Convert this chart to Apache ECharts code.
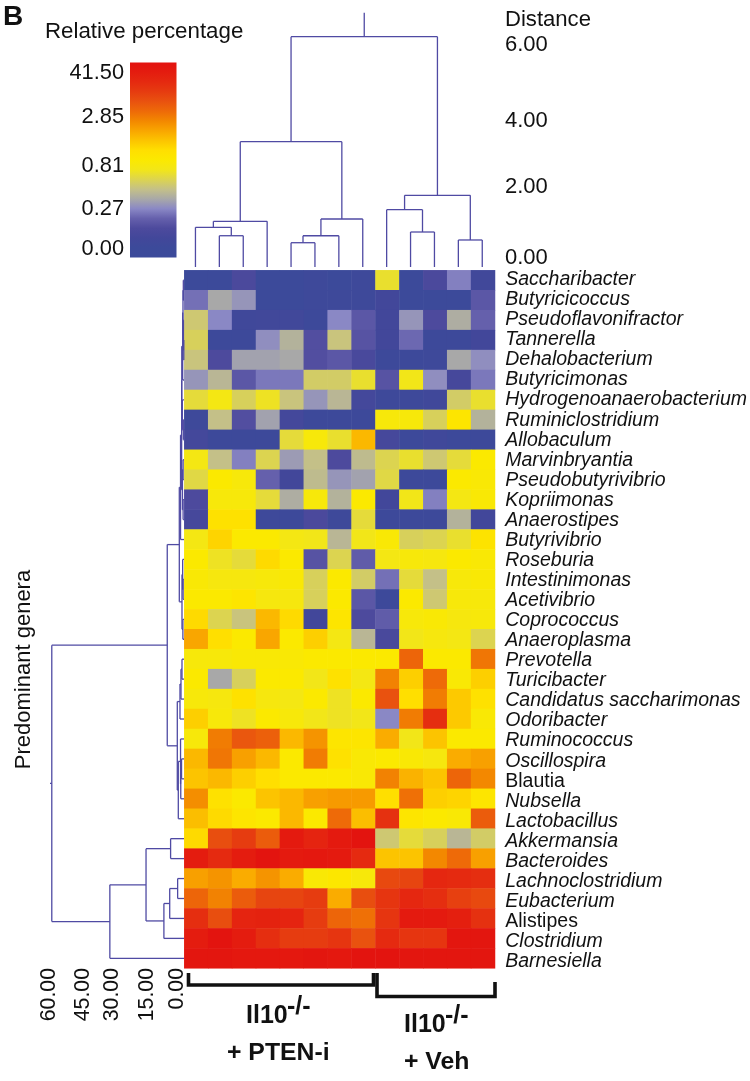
<!DOCTYPE html>
<html><head><meta charset="utf-8">
<style>html,body{margin:0;padding:0;background:#fff}#c{width:750px;height:1081px}</style>
<script src="https://cdn.jsdelivr.net/npm/echarts@6/dist/echarts.min.js"></script>
</head><body><div id="c"></div>
<script>
const samples = ['S1','S2','S3','S4','S5','S6','S7','S8','S9','S10','S11','S12','S13'];
const genera = ['Saccharibacter','Butyricicoccus','Pseudoflavonifractor','Tannerella','Dehalobacterium','Butyricimonas','Hydrogenoanaerobacterium','Ruminiclostridium','Allobaculum','Marvinbryantia','Pseudobutyrivibrio','Kopriimonas','Anaerostipes','Butyrivibrio','Roseburia','Intestinimonas','Acetivibrio','Coprococcus','Anaeroplasma','Prevotella','Turicibacter','Candidatus saccharimonas','Odoribacter','Ruminococcus','Oscillospira','Blautia','Nubsella','Lactobacillus','Akkermansia','Bacteroides','Lachnoclostridium','Eubacterium','Alistipes','Clostridium','Barnesiella'];
const uprightGenera = ['Blautia','Alistipes'];
// Each value is the position of the cell's colour on the colour bar (0 = bottom, 100 = top).
const cellLevels = [
[5,5,14,5,5,7,5,7,43,5,14,24,9],
[22,30,27,5,5,7,7,7,10,5,5,5,18],
[37,25,8,9,9,6,25,18,10,27,15,31,20],
[39,6,6,26,32,16,36,17,10,21,6,6,10],
[36,15,29,29,30,16,18,13,6,6,7,30,26],
[27,33,18,23,23,38,38,43,17,45,26,12,23],
[42,46,39,44,36,27,33,11,7,7,8,38,43],
[7,35,16,29,11,6,6,6,48,48,39,52,32],
[11,6,6,6,42,48,43,62,12,6,8,6,6],
[46,35,24,40,28,35,15,34,40,43,37,42,50],
[41,50,48,20,10,34,27,29,41,6,6,50,49],
[15,48,48,42,31,48,32,50,10,45,24,46,49],
[12,54,54,7,6,14,7,42,6,6,6,32,10],
[46,57,50,50,46,45,33,45,49,39,40,43,53],
[50,44,42,56,50,17,40,19,46,48,47,50,49],
[49,47,47,48,49,39,50,38,22,42,35,48,49],
[50,50,52,47,47,39,50,18,6,50,37,48,48],
[56,40,36,62,56,10,52,15,19,48,49,47,48],
[65,55,50,65,50,58,46,33,13,45,47,46,40],
[48,48,49,49,49,50,50,50,50,76,50,50,73],
[50,30,39,50,50,45,54,46,71,58,75,49,58],
[48,47,54,47,46,50,44,50,80,55,72,59,54],
[58,48,44,50,48,45,44,45,25,72,89,59,49],
[48,72,79,77,62,68,52,52,64,45,60,50,50],
[62,73,66,62,50,72,54,49,50,49,47,64,66],
[60,62,58,55,50,50,50,49,71,63,60,76,70],
[69,54,50,60,62,66,67,67,55,74,58,57,52],
[61,56,52,50,62,50,75,61,88,52,50,49,78],
[56,81,85,78,96,92,96,99,37,42,39,33,38],
[95,90,95,99,96,97,96,90,60,60,70,75,66],
[66,68,64,68,64,49,51,48,82,83,91,90,89],
[76,71,78,83,83,85,64,81,87,91,89,84,82],
[89,81,92,93,92,85,76,74,87,96,96,94,88],
[95,99,95,89,85,85,87,80,90,87,87,98,98],
[98,98,97,97,97,98,97,99,99,98,98,98,98]
];
const scaleColors = ['#3b4a9a','#3c4a9a','#42479a','#4d4a9d','#6560ac','#8a88c5','#a8a8a8','#c4c088','#dcd450','#f2e618','#fbe900','#ffdf00','#fcc400','#f9a600','#f38800','#ee6a08','#e9520f','#e63c10','#e52a10','#e41c0f','#e3120f'];
const scaleTickLabels = ['0.00','0.27','0.81','2.85','41.50'];
const scaleTickPlaces = [4.2,24.8,47.1,72.2,94.8];
const distanceTickLabels = ['0.00','2.00','4.00','6.00'];
const distanceTickPlaces = [0,2,3.87,6];
const rowDistanceTickLabels = ['0.00','15.00','30.00','45.00','60.00'];
const rowDistanceTickPlaces = [0,14.1,30.4,44.3,60];

// Dendrograms: [child, child, merge distance]; a number child is a column/row index.
const columnTree = [
  [[[0,[1,2,0.62],0.858],3,1.027],[[[4,5,0.423],6,0.62],7,1.092],3.272],
  [[8,[9,10,0.725],1.354],[11,12,0.5],1.76],
  6.234];
const rowClusterA = [
  [
    [
      [[[[0,1,0.3],[2,[3,4,0.1],0.25],0.45],5,0.6],[6,[7,8,0.3],0.75],1.0],
      [[9,10,0.4],[11,12,0.4],0.7],
      1.05],
    13,1.55],
  [[14,[15,16,0.4],0.6],[17,18,0.5],0.9],
  2.1];
const rowClusterB = [[[[19,20,0.9],21,1.35],22,1.8],[[23,[[24,25,1.1],26,1.45],1.55],27,2.55],3.0];
const rowClusterC = [[[[30,31,2.85],32,6.4],33,9],[28,29,6.0],17];
const rowTree = [[rowClusterA,rowClusterB,7.5],[rowClusterC,34,33.2],59.2];

function layoutTree(node, leafDistance, segments, vertical){
  if (typeof node === 'number') return {pos:node, dist:leafDistance};
  const a = layoutTree(node[0], leafDistance, segments, vertical);
  const b = layoutTree(node[1], leafDistance, segments, vertical);
  const d = node[2];
  const push = (p1,d1,p2,d2) => segments.push(vertical ? [p1,d1,p2,d2] : [d1,p1,d2,p2]);
  push(a.pos,a.dist,a.pos,d);
  push(b.pos,b.dist,b.pos,d);
  push(a.pos,d,b.pos,d);
  return {pos:(a.pos+b.pos)/2, dist:d};
}
const columnAxisMin = -0.262, columnAxisMax = 6.91;
const columnSegments = [];
const colTop = layoutTree(columnTree, columnAxisMin, columnSegments, true);
columnSegments.push([colTop.pos,colTop.dist,colTop.pos,columnAxisMax]);
const rowSegments = [];
const rowTop = layoutTree(rowTree, 0, rowSegments, false);
rowSegments.push([rowTop.dist,rowTop.pos,60,rowTop.pos]);

const FONT = '"Liberation Sans", Arial, sans-serif';
const INK = '#111';
const LINK = '#4f4aa3';
const renderLink = (params, api) => {
  const p1 = api.coord([api.value(0),api.value(1)]);
  const p2 = api.coord([api.value(2),api.value(3)]);
  return {type:'line',shape:{x1:p1[0],y1:p1[1],x2:p2[0],y2:p2[1]},style:{stroke:LINK,lineWidth:1.3}};
};
const bare = {axisLine:{show:false},axisTick:{show:false},splitLine:{show:false}};
const heatData = [];
cellLevels.forEach((row,r)=>row.forEach((v,c)=>heatData.push([c,r,v])));
const text = (x,y,t,size) => ({type:'text',x,y,style:{text:t,font:`${size}px ${FONT}`,fill:INK,textVerticalAlign:'middle'}});
const boldText = (x,y,t,size) => ({type:'text',x,y,style:{text:t,font:`bold ${size}px ${FONT}`,fill:INK,textVerticalAlign:'middle'}});
const bracket = pts => ({type:'polyline',shape:{points:pts},style:{stroke:INK,lineWidth:3.6,fill:null}});
const barStops = scaleColors.map((color,i)=>({offset:1-i/(scaleColors.length-1),color}));

const chart = echarts.init(document.getElementById('c'));
chart.setOption({
  animation:false,
  backgroundColor:'#fff',
  grid:[
    {left:184.3,top:270.3,width:310.7,height:698},
    {left:183.5,top:12.7,width:310.7,height:254.3},
    {left:50,top:270.3,width:134,height:698},
    {left:49.3,top:955,width:127.4,height:8},
    {left:130,top:62.5,width:46.5,height:195},
    {left:184.3,top:269.7,width:310.7,height:702}
  ],
  xAxis:[
    {gridIndex:0,type:'category',data:samples,show:false},
    {gridIndex:1,type:'value',min:-0.5,max:12.5,show:false},
    {gridIndex:2,type:'value',min:0,max:60,inverse:true,show:false},
    Object.assign({gridIndex:3,type:'value',min:0,max:60,inverse:true,position:'bottom',
      axisLabel:{customValues:rowDistanceTickPlaces,rotate:90,margin:5,fontSize:21.3,color:INK,fontFamily:FONT,hideOverlap:false,
        formatter:v=>rowDistanceTickLabels[rowDistanceTickPlaces.indexOf(v)]}},bare),
    {gridIndex:4,type:'value',min:0,max:1,show:false},
    {gridIndex:5,type:'value',min:0,max:1,show:false}
  ],
  yAxis:[
    {gridIndex:0,type:'category',data:genera,inverse:true,show:false},
    Object.assign({gridIndex:1,type:'value',min:columnAxisMin,max:columnAxisMax,position:'right',
      axisLabel:{customValues:distanceTickPlaces,margin:10.8,fontSize:22,color:INK,fontFamily:FONT,
        formatter:v=>distanceTickLabels[distanceTickPlaces.indexOf(v)]}},bare),
    {gridIndex:2,type:'value',min:-0.5,max:34.5,inverse:true,show:false},
    {gridIndex:3,type:'value',min:0,max:1,show:false},
    Object.assign({gridIndex:4,type:'value',min:0,max:100,position:'left',
      axisLabel:{customValues:scaleTickPlaces,margin:6,fontSize:21.8,color:INK,fontFamily:FONT,
        formatter:v=>scaleTickLabels[scaleTickPlaces.indexOf(v)]}},bare),
    Object.assign({gridIndex:5,type:'category',data:genera,inverse:true,position:'right',
      axisLabel:{interval:0,margin:11.7,formatter:n=>uprightGenera.includes(n)?`{up|${n}}`:`{it|${n}}`,
        rich:{it:{fontFamily:FONT,fontSize:19.5,fontStyle:'italic',color:INK},up:{fontFamily:FONT,fontSize:19.5,color:INK}}}},bare)
  ],
  visualMap:{type:'continuous',seriesIndex:0,min:0,max:100,show:false,inRange:{color:scaleColors}},
  series:[
    {type:'heatmap',xAxisIndex:0,yAxisIndex:0,data:heatData,silent:true,emphasis:{disabled:true},progressive:0},
    {type:'custom',xAxisIndex:1,yAxisIndex:1,data:columnSegments,renderItem:renderLink,silent:true,clip:false,encode:{x:[0,2],y:[1,3]}},
    {type:'custom',xAxisIndex:2,yAxisIndex:2,data:rowSegments,renderItem:renderLink,silent:true,clip:false,encode:{x:[0,2],y:[1,3]}}
  ],
  graphic:[
    {type:'rect',shape:{x:130,y:62.5,width:46.5,height:195},style:{fill:new echarts.graphic.LinearGradient(0,0,0,1,barStops)}},
    boldText(3,17,'B',28),
    text(45,32,'Relative percentage',22.3),
    text(505,19.5,'Distance',22.1),
    {type:'text',x:24,y:669.5,rotation:Math.PI/2,style:{text:'Predominant genera',font:`22px ${FONT}`,fill:INK,textAlign:'center',textVerticalAlign:'middle'}},
    bracket([[188.5,973],[188.5,985],[373.5,985],[373.5,973]]),
    bracket([[377,973],[377,996.5],[495,996.5],[495,982]]),
    boldText(246,1016.5,'Il10',25), boldText(287,1007,'-/-',25), boldText(227,1053,'+ PTEN-i',24.8),
    boldText(404,1025.5,'Il10',25), boldText(445,1016,'-/-',25), boldText(404,1062,'+ Veh',24.8)
  ]
});
</script>
</body></html>
